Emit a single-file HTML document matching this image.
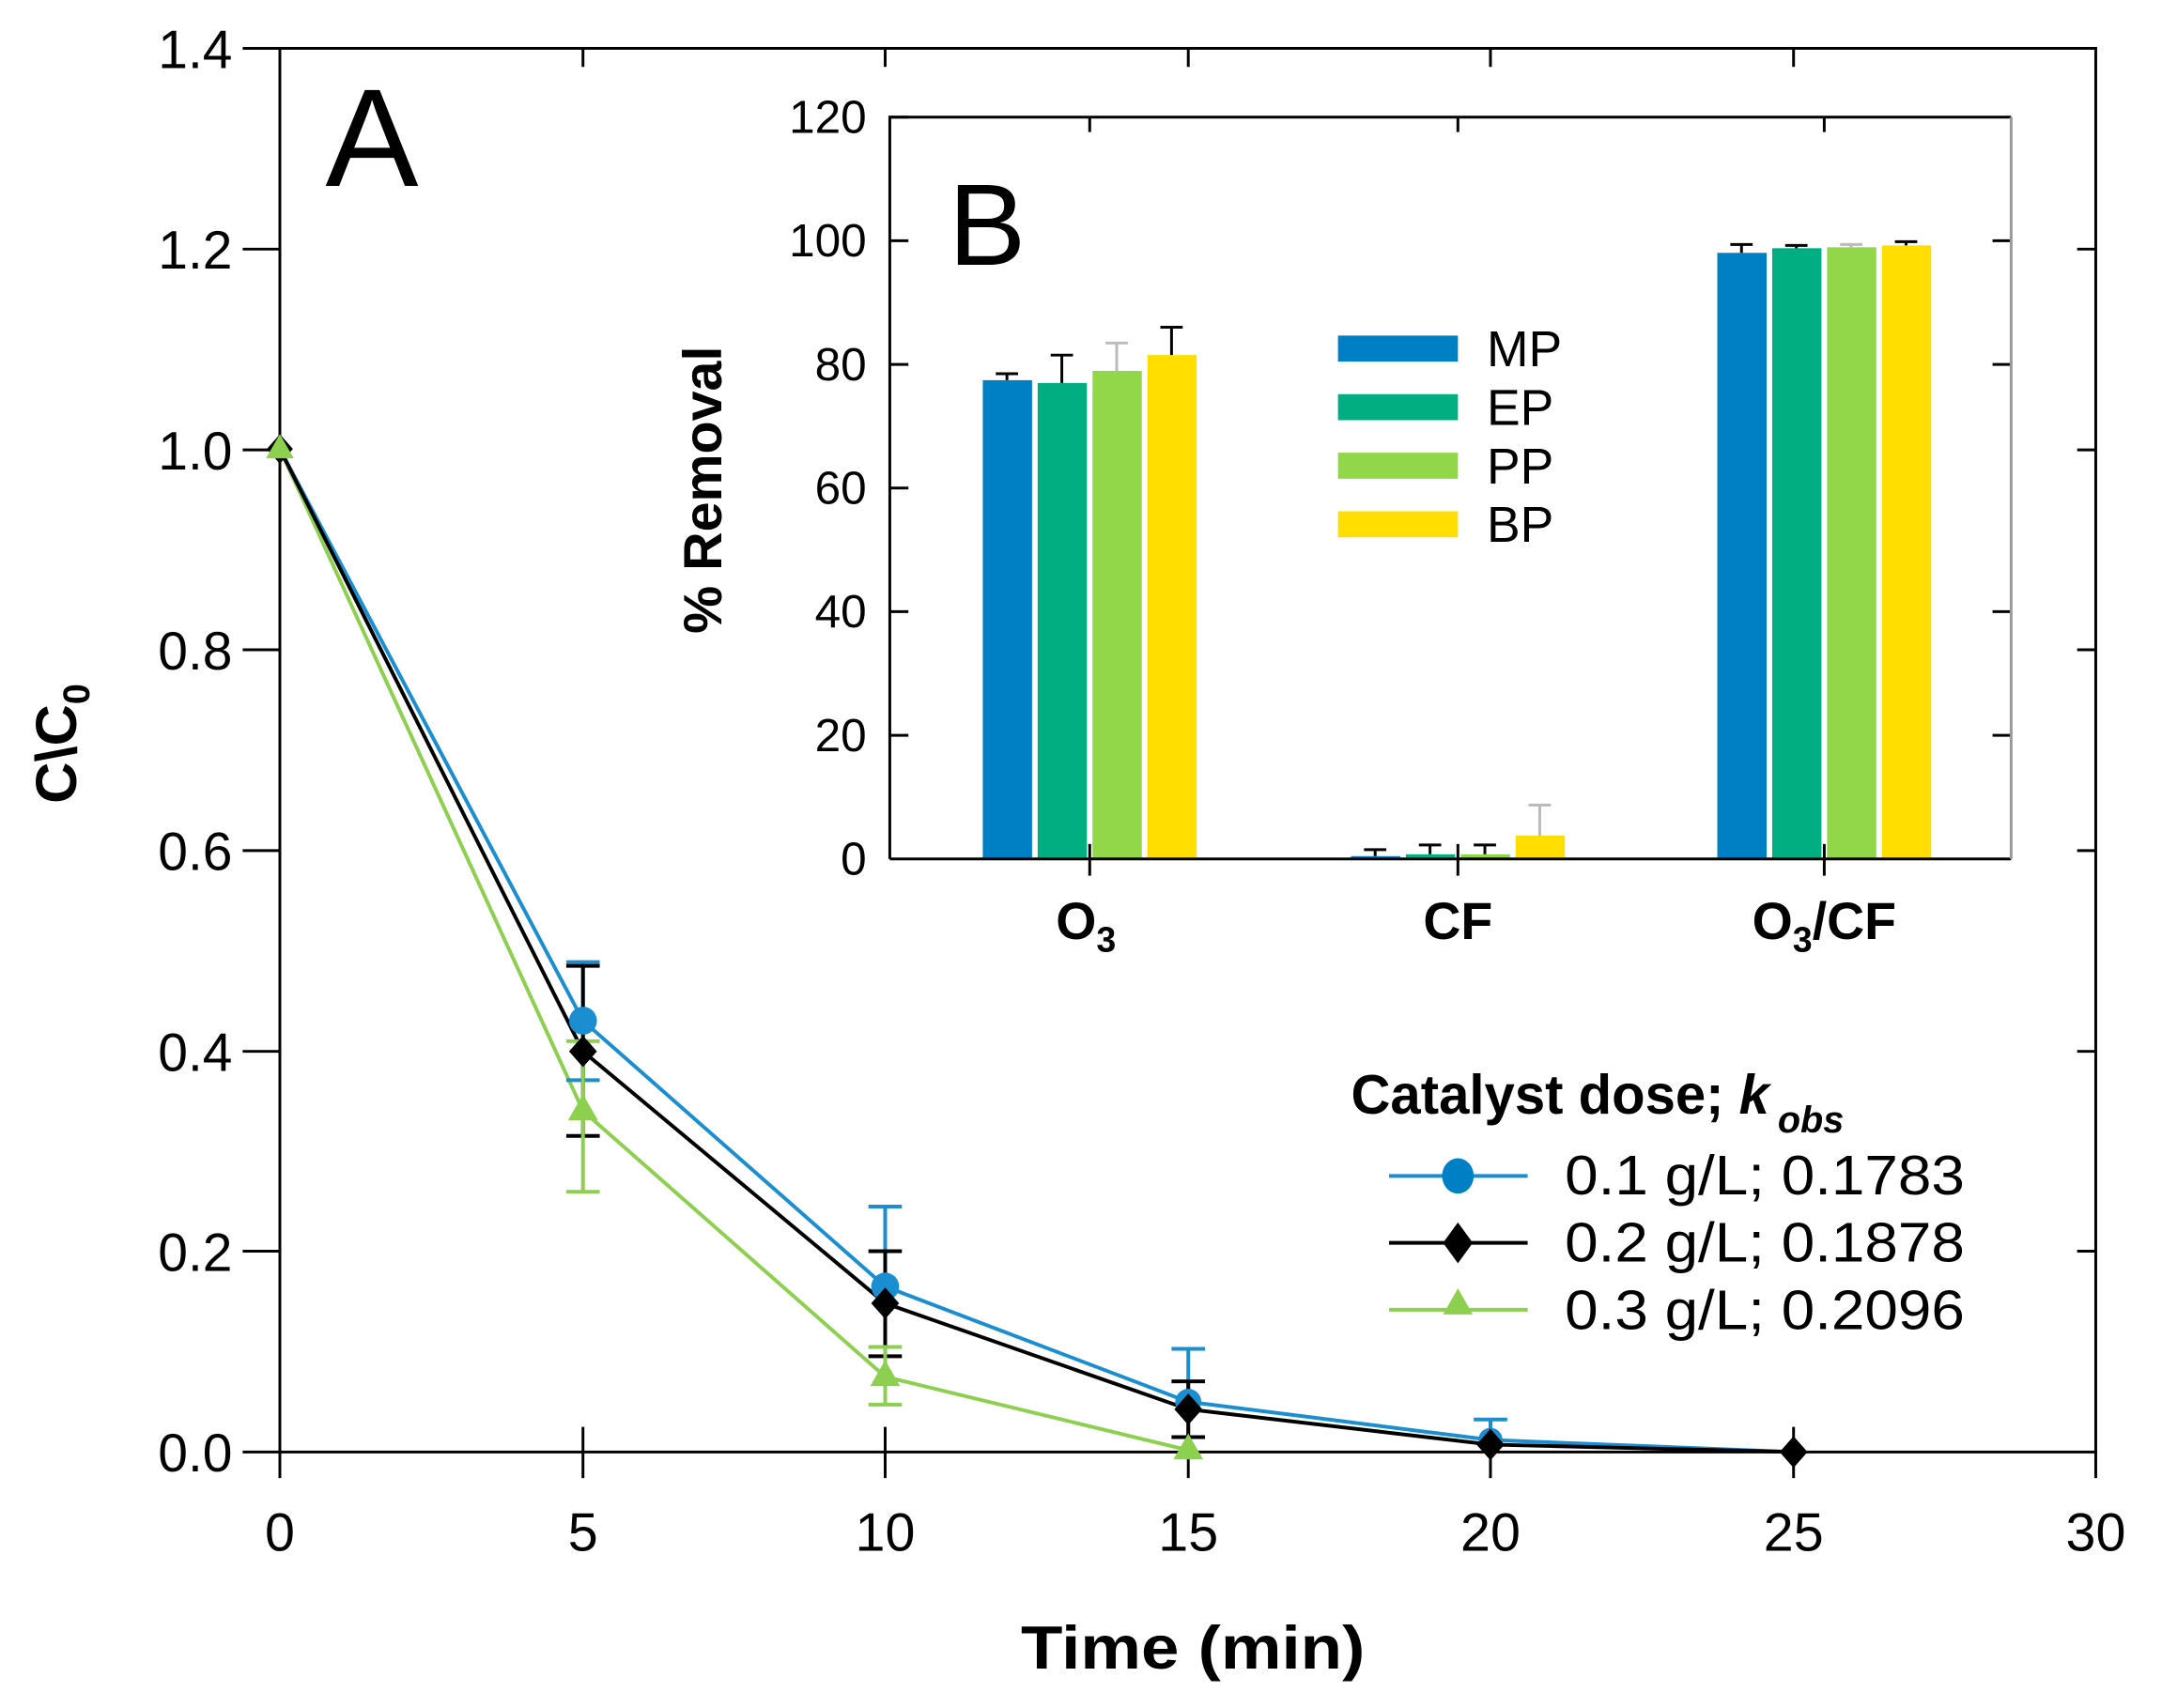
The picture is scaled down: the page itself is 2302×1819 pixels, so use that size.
<!DOCTYPE html>
<html><head><meta charset="utf-8"><style>html,body{margin:0;padding:0;background:#fff}svg{display:block}</style></head>
<body>
<svg width="2302" height="1819" viewBox="0 0 2302 1819" xmlns="http://www.w3.org/2000/svg" font-family="Liberation Sans, sans-serif">
<rect width="2302" height="1819" fill="#fff"/>
<g transform="scale(0.99)">
<g stroke="#000" stroke-width="3" fill="none">
<rect x="301" y="52" width="1953" height="1510"/>
<path d="M261 52H301M261 268H301M261 484H301M261 699H301M261 915H301M261 1131H301M261 1346H301M261 1562H301"/>
<path d="M2234 268H2254M2234 484H2254M2234 699H2254M2234 915H2254M2234 1131H2254M2234 1346H2254"/>
<path d="M301 1562V1590M627 1535V1590M952 1535V1590M1278 1535V1590M1603 1535V1590M1929 1535V1590M2254 1562V1590"/>
<path d="M627 52V72M952 52V72M1278 52V72M1603 52V72M1929 52V72"/>
</g>
<g font-size="58" text-anchor="end" fill="#000">
<text x="250" y="73" textLength="80" lengthAdjust="spacingAndGlyphs">1.4</text>
<text x="250" y="289" textLength="80" lengthAdjust="spacingAndGlyphs">1.2</text>
<text x="250" y="505" textLength="80" lengthAdjust="spacingAndGlyphs">1.0</text>
<text x="250" y="720" textLength="80" lengthAdjust="spacingAndGlyphs">0.8</text>
<text x="250" y="936" textLength="80" lengthAdjust="spacingAndGlyphs">0.6</text>
<text x="250" y="1152" textLength="80" lengthAdjust="spacingAndGlyphs">0.4</text>
<text x="250" y="1367" textLength="80" lengthAdjust="spacingAndGlyphs">0.2</text>
<text x="250" y="1583" textLength="80" lengthAdjust="spacingAndGlyphs">0.0</text>
</g>
<g font-size="58" text-anchor="middle" fill="#000">
<text x="301" y="1668">0</text><text x="627" y="1668">5</text><text x="952" y="1668">10</text>
<text x="1278" y="1668">15</text><text x="1603" y="1668">20</text><text x="1929" y="1668">25</text><text x="2254" y="1668">30</text>
</g>
<text x="1283" y="1795" font-size="66" font-weight="bold" text-anchor="middle" textLength="370" lengthAdjust="spacingAndGlyphs">Time (min)</text>
<text transform="translate(82,800) rotate(-90)" font-size="62" font-weight="bold" text-anchor="middle">C\C<tspan font-size="40" dy="14">0</tspan></text>
<text x="350" y="200" font-size="150" fill="#000">A</text>

<g fill="#0080c4">
<rect x="1057" y="409" width="53" height="515"/><rect x="1453" y="921" width="53" height="3"/><rect x="1847" y="272" width="53" height="652"/>
</g>
<g fill="#00ae82">
<rect x="1116" y="412" width="53" height="512"/><rect x="1512" y="919" width="53" height="5"/><rect x="1906" y="267" width="53" height="657"/>
</g>
<g fill="#92d74a">
<rect x="1175" y="399" width="53" height="525"/><rect x="1571" y="919" width="53" height="5"/><rect x="1965" y="266" width="53" height="658"/>
</g>
<g fill="#ffde00">
<rect x="1234" y="382" width="53" height="542"/><rect x="1630" y="899" width="53" height="25"/><rect x="2024" y="264" width="53" height="660"/>
</g>
<g stroke="#000" stroke-width="3">
<path d="M1083 409V402M1071 402H1095M1142 412V382M1130 382H1154M1260 382V352M1248 352H1272"/>
<path d="M1479 921V914M1467 914H1491M1538 919V909M1526 909H1550M1597 919V909M1585 909H1609"/>
<path d="M1873 272V263M1861 263H1885M1932 267V264M1920 264H1944M2050 264V260M2038 260H2062"/>
</g>
<g stroke="#bbb" stroke-width="3">
<path d="M1201 399V369M1189 369H1213M1656 899V866M1644 866H1668M1991 266V263M1979 263H2003"/>
</g>
<g stroke="#000" stroke-width="3" fill="none">
<path d="M957 924V126H2163"/><path d="M957 924H2163"/>
<path d="M957 126H977M957 259H977M957 392H977M957 525H977M957 658H977M957 791H977"/>
<path d="M2143 259H2163M2143 392H2163M2143 658H2163M2143 791H2163"/>
<path d="M1172 126V142M1568 126V142M1962 126V142M1172 908V942M1568 908V942M1962 908V942"/>
</g>
<path d="M2163 126V924" stroke="#999" stroke-width="3"/>
<g font-size="50" text-anchor="end">
<text x="932" y="143">120</text><text x="932" y="276">100</text><text x="932" y="409">80</text>
<text x="932" y="542">60</text><text x="932" y="675">40</text><text x="932" y="808">20</text><text x="932" y="941">0</text>
</g>
<text transform="translate(776,527) rotate(-90)" font-size="58" font-weight="bold" text-anchor="middle">% Removal</text>
<text x="1020" y="285" font-size="125">B</text>
<g font-size="56" font-weight="bold" text-anchor="middle">
<text x="1168" y="1010">O<tspan font-size="38" dy="14">3</tspan></text>
<text x="1568" y="1010">CF</text>
<text x="1962" y="1010">O<tspan font-size="38" dy="14">3</tspan><tspan dy="-14">/CF</tspan></text>
</g>
<rect x="1439" y="361" width="129" height="28" fill="#0080c4"/>
<rect x="1439" y="424" width="129" height="28" fill="#00ae82"/>
<rect x="1439" y="487" width="129" height="28" fill="#92d74a"/>
<rect x="1439" y="550" width="129" height="28" fill="#ffde00"/>
<g font-size="54">
<text x="1599" y="394">MP</text><text x="1599" y="457">EP</text><text x="1599" y="520">PP</text><text x="1599" y="583">BP</text>
</g>

<g fill="none" stroke-width="4">
<path stroke="#1a8ed0" d="M301 483L627 1098L952 1384L1278 1508L1603 1549L1929 1562"/>
<path stroke="#8dcf4f" d="M301 483L627 1195L952 1481L1278 1560"/>
<path stroke="#000" d="M301 483L627 1131L952 1402L1278 1516L1603 1554L1929 1562"/>
<path stroke="#1a8ed0" d="M627 1162V1035M609 1035H645M609 1162H645M952 1478V1298M934 1298H970M1278 1562V1451M1260 1451H1296M1603 1540V1527M1585 1527H1621"/>
<path stroke="#000" d="M627 1222V1039M609 1039H645M609 1222H645M952 1459V1346M934 1346H970M934 1459H970M1278 1546V1486M1260 1486H1296M1260 1546H1296"/>
<path stroke="#8dcf4f" d="M627 1282V1120M609 1282H645M609 1120H645M952 1511V1449M934 1511H970M934 1449H970"/>
</g>
<g fill="#1a8ed0"><circle cx="627" cy="1098" r="15"/><circle cx="952" cy="1384" r="15"/><circle cx="1278" cy="1508" r="14"/><circle cx="1603" cy="1549" r="13"/></g>
<g fill="#000">
<path d="M301 467l14 16-14 16-14-16z"/>
<path d="M627 1114l15 17-15 17-15-17z"/><path d="M952 1385l15 17-15 17-15-17z"/>
<path d="M1278 1499l15 17-15 17-15-17z"/><path d="M1603 1537l15 17-15 17-15-17z"/><path d="M1929 1545l15 17-15 17-15-17z"/>
</g>
<g fill="#8dcf4f">
<path d="M301 467l15 26h-30z"/><path d="M627 1177l16 28h-32z"/><path d="M952 1463l16 28h-32z"/><path d="M1278 1542l16 28h-32z"/>
</g>

<text x="1453" y="1198" font-size="60" font-weight="bold" textLength="450" lengthAdjust="spacingAndGlyphs">Catalyst dose; <tspan font-style="italic">k</tspan></text>
<text x="1912" y="1218" font-size="40" font-style="italic" font-weight="bold">obs</text>
<path d="M1494 1265H1643" stroke="#1a8ed0" stroke-width="4"/><ellipse cx="1568" cy="1265" rx="17" ry="19" fill="#0080c4"/>
<path d="M1494 1337H1643" stroke="#000" stroke-width="4"/><path d="M1568 1315l16 22-16 22-16-22z"/>
<path d="M1494 1409H1643" stroke="#8dcf4f" stroke-width="4"/><path d="M1568 1386l16 28h-32z" fill="#8dcf4f"/>
<g font-size="60">
<text x="1683" y="1285" textLength="430" lengthAdjust="spacingAndGlyphs">0.1 g/L; 0.1783</text>
<text x="1683" y="1357" textLength="430" lengthAdjust="spacingAndGlyphs">0.2 g/L; 0.1878</text>
<text x="1683" y="1430" textLength="430" lengthAdjust="spacingAndGlyphs">0.3 g/L; 0.2096</text>
</g>
</g>
</svg>
</body></html>
